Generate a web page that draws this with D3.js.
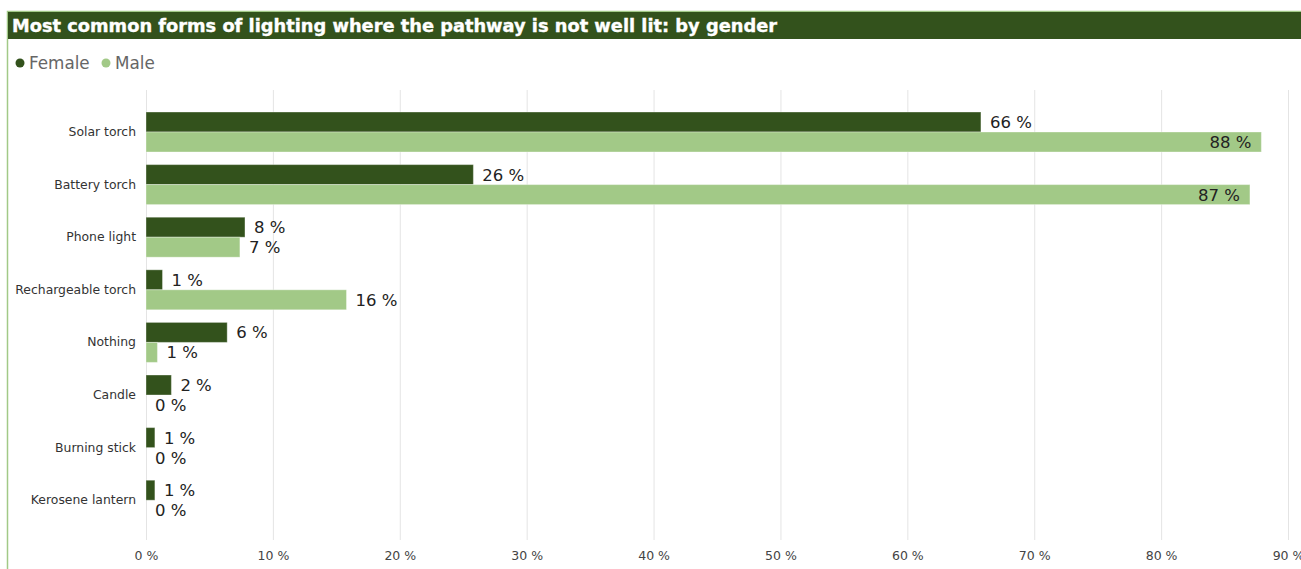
<!DOCTYPE html>
<html>
<head>
<meta charset="utf-8">
<script src="https://cdn.jsdelivr.net/npm/d3@7/dist/d3.min.js"></script>
<style>
  html, body { margin: 0; padding: 0; background: #ffffff; }
  svg { display: block; }
</style>
</head>
<body>
<svg id="chart" width="1301" height="569"></svg>
<script>
const title = "Most common forms of lighting where the pathway is not well lit: by gender";
const categories = ["Solar torch", "Battery torch", "Phone light", "Rechargeable torch", "Nothing", "Candle", "Burning stick", "Kerosene lantern"];
const seriesNames = ["Female", "Male"];
const femaleValues = [65.8, 25.8, 7.8, 1.3, 6.4, 2.0, 0.7, 0.7];
const maleValues = [87.9, 87.0, 7.4, 15.8, 0.9, 0, 0, 0];
const tickValues = [0, 10, 20, 30, 40, 50, 60, 70, 80, 90];
const colors = ["#33521c", "#a2c987"];

const svg = d3.select("#chart");
const W = 1301, H = 569;
const FONT = "'DejaVu Sans', Verdana, sans-serif";

// frame
svg.append("rect").attr("x", 7.5).attr("y", 11.5).attr("width", W + 10).attr("height", H + 10)
  .attr("fill", "#ffffff").attr("stroke", "#a2c987").attr("stroke-width", 1.5);
svg.append("rect").attr("x", 8).attr("y", 12).attr("width", W).attr("height", 27)
  .attr("fill", "#33521c");
svg.append("text").attr("x", 12).attr("y", 32)
  .attr("font-family", FONT).attr("font-weight", "bold").attr("font-size", 17)
  .attr("fill", "#ffffff").attr("stroke", "#ffffff").attr("stroke-width", 0.35)
  .attr("textLength", 765).attr("lengthAdjust", "spacingAndGlyphs")
  .text(title);

// legend
const legend = svg.append("g").attr("font-family", FONT).attr("font-size", 16.8).attr("fill", "#666666");
const lx = [20, 106];
seriesNames.forEach((name, i) => {
  legend.append("circle").attr("cx", lx[i]).attr("cy", 63).attr("r", 4.5).attr("fill", colors[i]);
  legend.append("text").attr("x", lx[i] + 9).attr("y", 69).text(name);
});

// scales
const x = d3.scaleLinear().domain([0, 90]).range([146, 1288]);
const y = d3.scaleBand().domain(categories).range([105.7, 526.5]).paddingInner(0.24).paddingOuter(0.12);
const inner = d3.scaleBand().domain(seriesNames).range([0, y.bandwidth()]);

// gridlines
const grid = d3.axisBottom(x).tickValues(tickValues).tickSize(450).tickFormat("");
svg.append("g").attr("transform", "translate(0,90)").call(grid)
  .call(g => g.select(".domain").remove())
  .call(g => g.selectAll(".tick line").attr("stroke", "#e4e4e4").attr("stroke-width", 1));

// x tick labels
const xAxis = d3.axisBottom(x).tickValues(tickValues).tickSize(0).tickPadding(0).tickFormat(d => d + " %");
svg.append("g").attr("transform", "translate(0,551)").call(xAxis)
  .call(g => g.select(".domain").remove())
  .call(g => g.selectAll("text").attr("font-family", FONT).attr("font-size", 12.5).attr("fill", "#444444").attr("dy", "0.71em"));

// category labels
const yAxis = d3.axisLeft(y).tickSize(0).tickPadding(0);
svg.append("g").attr("transform", "translate(136,0)").call(yAxis)
  .call(g => g.select(".domain").remove())
  .call(g => g.selectAll("text").attr("font-family", FONT).attr("font-size", 12.4).attr("fill", "#333333"));

// bars
const rows = [];
categories.forEach((c, i) => {
  rows.push({ cat: c, s: "Female", v: femaleValues[i], color: colors[0] });
  rows.push({ cat: c, s: "Male", v: maleValues[i], color: colors[1] });
});
const bars = svg.append("g");
bars.selectAll("rect").data(rows).join("rect")
  .attr("x", x(0))
  .attr("y", d => y(d.cat) + inner(d.s))
  .attr("width", d => x(d.v) - x(0))
  .attr("height", inner.bandwidth())
  .attr("fill", d => d.color)
  .attr("stroke", d => d.v > 0 ? "#ffffff" : "none")
  .attr("stroke-opacity", 0.35)
  .attr("stroke-width", 1);

// value labels
const labels = svg.append("g").attr("font-family", FONT).attr("font-size", 16.5).attr("fill", "#222222");
labels.selectAll("text").data(rows).join("text")
  .attr("y", d => y(d.cat) + inner(d.s) + inner.bandwidth() / 2)
  .attr("dy", "0.36em")
  .text(d => Math.round(d.v) + " %")
  .each(function (d) {
    const t = d3.select(this);
    const w = this.getComputedTextLength();
    const end = x(d.v);
    if (end + 9 + w > x.range()[1]) {
      t.attr("x", end - 10).attr("text-anchor", "end");
    } else {
      t.attr("x", end + 9).attr("text-anchor", "start");
    }
  });
</script>
</body>
</html>
